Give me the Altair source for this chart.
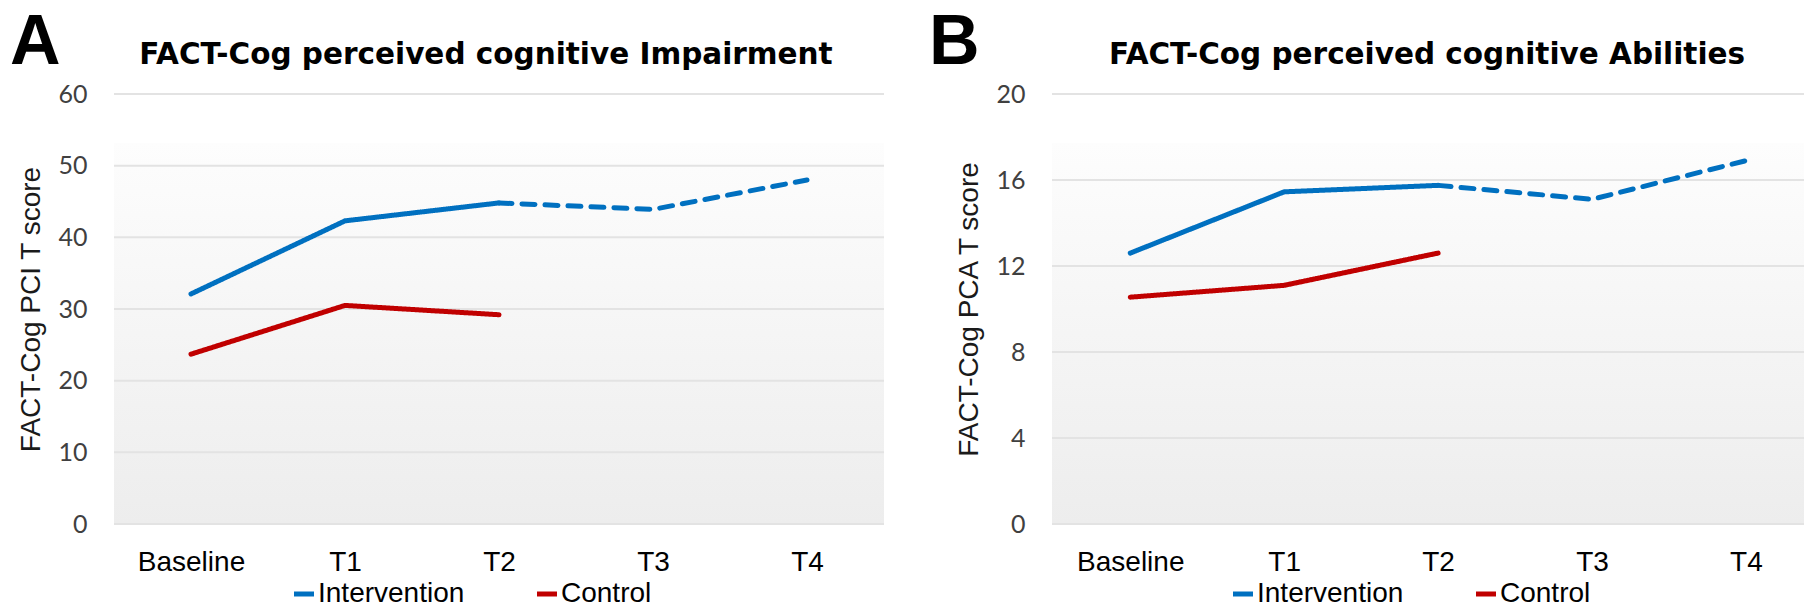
import altair as alt
import pandas as pd

# ---------------- data ----------------
categories = ["Baseline", "T1", "T2", "T3", "T4"]
groups = ["Intervention", "Control"]

pci_intervention = [32.1, 42.3, 44.8, 43.9, 48.0]
pci_control = [23.7, 30.5, 29.2]
pci_ticks = [0, 10, 20, 30, 40, 50, 60]

pca_intervention = [12.6, 15.45, 15.75, 15.1, 16.9]
pca_control = [10.55, 11.1, 12.6]
pca_ticks = [0, 4, 8, 12, 16, 20]

title_a = "FACT-Cog perceived cognitive Impairment"
title_b = "FACT-Cog perceived cognitive Abilities"
ytitle_a = "FACT-Cog PCI T score"
ytitle_b = "FACT-Cog PCA T score"

BLUE = "#0070C0"
RED = "#C00000"
H = 430


def make_df(interv, ctrl):
    rows = []
    for i, v in enumerate(interv):
        if i <= 2:
            rows.append({"time": categories[i], "value": v, "group": "Intervention", "seg": "solid"})
        if i >= 2:
            rows.append({"time": categories[i], "value": v, "group": "Intervention", "seg": "dashed"})
    for i, v in enumerate(ctrl):
        rows.append({"time": categories[i], "value": v, "group": "Control", "seg": "solid"})
    return pd.DataFrame(rows)


def panel(df, ticks, ytitle, title, letter, W, xscale, title_x, letter_x, legend_x):
    ymax = ticks[-1]
    yscale = alt.Scale(domain=[0, ymax], nice=False, zero=True)
    yaxis = alt.Axis(values=ticks, grid=False, domain=False, ticks=False,
                     labelPadding=27, labelFont="Lato", labelFontSize=25,
                     labelColor="#404040", title=ytitle, titleFont="Liberation Sans",
                     titleFontSize=28, titleFontWeight="normal", titleColor="#1a1a1a",
                     titleX=-83, titleY=H / 2, titleBaseline="middle", titleAngle=270)
    xaxis = alt.Axis(title=None, labelAngle=0, domain=False, ticks=False, grid=False,
                     labelPadding=24, labelFont="Liberation Sans", labelFontSize=28,
                     labelColor="#000000")
    one = pd.DataFrame({"a": [0]})
    grad = alt.LinearGradient(gradient="linear",
                              stops=[alt.GradientStop(color="#fdfdfd", offset=0),
                                     alt.GradientStop(color="#ededed", offset=1)],
                              x1=0, x2=0, y1=0, y2=1)
    bg = alt.Chart(one).mark_rect(color=grad).encode(
        x=alt.value(0), x2=alt.value(W), y=alt.value(49), y2=alt.value(H))
    grid = alt.Chart(pd.DataFrame({"tick": ticks})).mark_rule(
        color="#e3e3e3", strokeWidth=2).encode(
        y=alt.Y("tick:Q", scale=yscale, axis=yaxis), x=alt.value(0), x2=alt.value(W))
    lines = alt.Chart(df).mark_line(strokeWidth=5, strokeCap="round", strokeJoin="round").encode(
        x=alt.X("time:N", sort=categories, scale=xscale, axis=xaxis),
        y=alt.Y("value:Q", scale=yscale, axis=yaxis),
        color=alt.Color("group:N", scale=alt.Scale(domain=groups, range=[BLUE, RED]),
                        legend=alt.Legend(title=None, orient="none", legendX=legend_x,
                                          legendY=486, direction="horizontal",
                                          symbolType="stroke", symbolStrokeWidth=5,
                                          symbolSize=400, labelFont="Liberation Sans",
                                          labelFontSize=28, labelColor="#000000",
                                          labelOffset=0, columnPadding=62,
                                          labelLimit=400, padding=0)),
        strokeDash=alt.StrokeDash("seg:N", scale=alt.Scale(domain=["solid", "dashed"],
                                                          range=[[1, 0], [13, 10]]),
                                  legend=None),
        detail="seg:N",
    )
    ttl = alt.Chart(pd.DataFrame({"t": [title]})).mark_text(
        font="DejaVu Sans", fontWeight="bold", fontSize=29.5, align="center",
        baseline="alphabetic", color="#000000").encode(
        text="t:N", x=alt.value(title_x), y=alt.value(-30))
    let = alt.Chart(pd.DataFrame({"t": [letter]})).mark_text(
        font="Liberation Sans", fontWeight="bold", fontSize=70, align="left",
        baseline="alphabetic", color="#000000").encode(
        text="t:N", x=alt.value(letter_x), y=alt.value(-30))
    return alt.layer(bg, grid, lines, ttl, let).properties(width=W, height=H)


df_a = make_df(pci_intervention, pci_control)
df_b = make_df(pca_intervention, pca_control)

pa = panel(df_a, pci_ticks, ytitle_a, title_a, "A", 770,
           alt.Scale(padding=0.5), 372, -104, 176)
pb = panel(df_b, pca_ticks, ytitle_b, title_b, "B", 752,
           alt.Scale(padding=0.443, align=0.574), 375, -123, 177)

chart = alt.hconcat(pa, pb, spacing=168, bounds="flush").resolve_scale(
    color="independent", x="independent", y="independent", strokeDash="independent"
).resolve_legend(color="independent").configure_view(stroke=None).properties(
    padding={"left": 2, "top": 0, "right": 0, "bottom": 0}
)

chart.save("out.html", embed_options={"renderer": "svg", "actions": False})
